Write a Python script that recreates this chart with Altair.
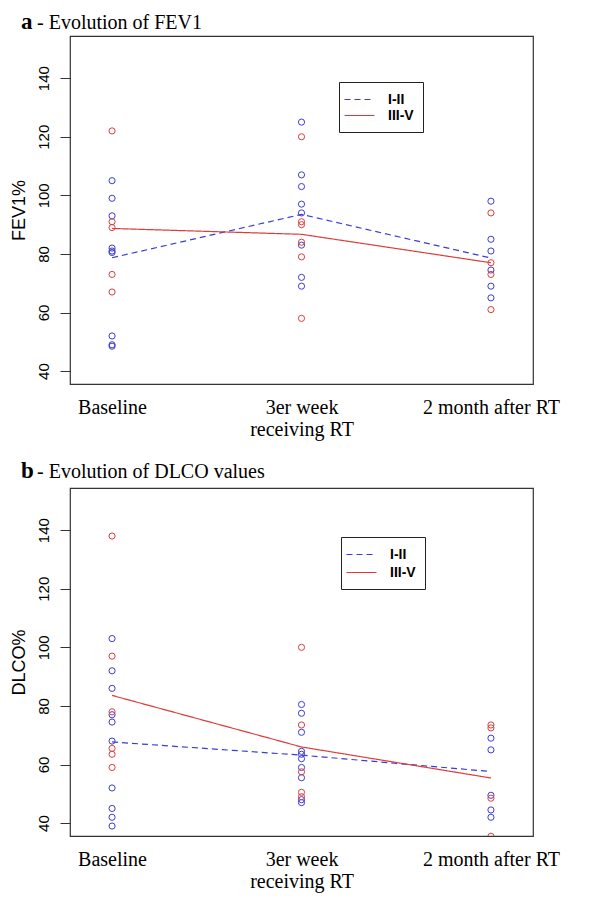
import altair as alt
import pandas as pd

# ---------------- data ----------------
times = ["Baseline", "3er week receiving RT", "2 month after RT"]
groups = ["I-II", "III-V"]

# Panel a: FEV1 %
fev_base_I = [105, 99, 93, 82, 81, 80.5, 52, 49, 48.5]
fev_base_III = [122, 91, 89, 73, 67]
fev_week3_I = [125, 107, 103, 97, 94, 83, 72, 69]
fev_week3_III = [120, 91, 90, 84, 79, 58]
fev_month2_I = [98, 85, 81, 74.5, 69, 65]
fev_month2_III = [94, 77, 73, 61]
fev_line_I = [78.7, 93.5, 78.6]
fev_line_III = [88.7, 86.7, 77.0]

# Panel b: DLCO %
dlco_base_I = [103, 92, 86, 77, 74.5, 68, 52, 45, 42, 39]
dlco_base_III = [138, 97, 78, 65.5, 63.5, 59]
dlco_week3_I = [80.5, 77.5, 71, 64.5, 63.5, 62, 59, 55.5, 48, 47]
dlco_week3_III = [100, 73.5, 57.5, 50.5, 49]
dlco_month2_I = [69, 65, 49.5, 44.5, 42]
dlco_month2_III = [73.5, 72.5, 48.5, 35.5]
dlco_line_I = [67.7, 63.2, 57.6]
dlco_line_III = [83.6, 66.0, 55.4]

y_ticks = [40, 60, 80, 100, 120, 140]
BLUE = "#3c3cd4"
RED = "#de3c3c"


def points_frame(series):
    rows = []
    for t, g, vals in series:
        for v in vals:
            rows.append({"time": t, "grp": g, "value": v})
    return pd.DataFrame(rows)


def lines_frame(line_I, line_III):
    rows = []
    for g, vals in (("I-II", line_I), ("III-V", line_III)):
        for i, v in enumerate(vals):
            rows.append({"time": times[i], "grp": g, "value": v, "idx": i})
    return pd.DataFrame(rows)


fev_pts = points_frame([
    (times[0], "I-II", fev_base_I), (times[0], "III-V", fev_base_III),
    (times[1], "I-II", fev_week3_I), (times[1], "III-V", fev_week3_III),
    (times[2], "I-II", fev_month2_I), (times[2], "III-V", fev_month2_III),
])
dlco_pts = points_frame([
    (times[0], "I-II", dlco_base_I), (times[0], "III-V", dlco_base_III),
    (times[1], "I-II", dlco_week3_I), (times[1], "III-V", dlco_week3_III),
    (times[2], "I-II", dlco_month2_I), (times[2], "III-V", dlco_month2_III),
])
fev_lines = lines_frame(fev_line_I, fev_line_III)
dlco_lines = lines_frame(dlco_line_I, dlco_line_III)

W, H = 463, 348


def panel(pts, lines, letter, title_text, ytitle, lx, ly, title_base, row_pad):
    x = alt.X(
        "time:N", sort=times, scale=alt.Scale(padding=0.222),
        axis=alt.Axis(
            title=None, labelAngle=0, ticks=False, domain=False, grid=False,
            labelFont="Liberation Serif", labelFontSize=20, labelColor="black",
            labelPadding=13, labelLineHeight=22, labelLimit=300,
            labelExpr="datum.label == '3er week receiving RT' ? ['3er week', 'receiving RT'] : datum.label",
        ),
    )
    y = alt.Y(
        "value:Q",
        scale=alt.Scale(domain=[35.6, 154.4], nice=False, zero=False),
        axis=alt.Axis(
            title=ytitle, values=y_ticks, grid=False, domain=False,
            tickSize=10, tickColor="#333333", tickWidth=1,
            labelAngle=270, labelAlign="center", labelBaseline="bottom",
            labelFont="Liberation Sans", labelFontSize=15, labelPadding=9,
            labelColor="black",
            titleFont="Liberation Sans", titleFontSize=18, titleFontWeight="normal",
            titleColor="black", titleX=-51, titleY=H / 2, titleAngle=270,
            titleAlign="center", titleBaseline="middle",
        ),
    )
    point_layer = alt.Chart(pts).mark_point(
        shape="circle", filled=False, size=38, strokeWidth=1, opacity=1, clip=True
    ).encode(
        x=x, y=y,
        stroke=alt.Stroke("grp:N", scale=alt.Scale(domain=groups, range=[BLUE, RED]), legend=None),
    )
    leg = dict(
        orient="none", legendX=lx, legendY=ly, title=None,
        symbolType="M-1.6,0L2.4,0", symbolSize=225, symbolStrokeWidth=1.2,
        labelFont="Liberation Sans", labelFontSize=14, labelFontWeight="bold",
        labelColor="black", labelOffset=23, strokeColor="#222222",
        fillColor="white", padding=9, rowPadding=row_pad,
    )
    line_layer = alt.Chart(lines).mark_line(strokeWidth=1.2).encode(
        x=x, y=y,
        order=alt.Order("idx:Q"),
        color=alt.Color("grp:N", scale=alt.Scale(domain=groups, range=[BLUE, RED]),
                        legend=alt.Legend(**leg)),
        strokeDash=alt.StrokeDash("grp:N", scale=alt.Scale(domain=groups, range=[[6, 4], [1, 0]]),
                                  legend=alt.Legend(**leg)),
    )
    tdf = pd.DataFrame({"letter": [letter], "rest": [title_text]})
    letter_layer = alt.Chart(tdf).mark_text(
        font="Liberation Serif", fontSize=23, fontWeight="bold",
        align="left", baseline="alphabetic", color="black",
    ).encode(text="letter:N", x=alt.value(-49), y=alt.value(title_base))
    rest_layer = alt.Chart(tdf).mark_text(
        font="Liberation Serif", fontSize=20, align="left",
        baseline="alphabetic", color="black",
    ).encode(text="rest:N", x=alt.value(-33), y=alt.value(title_base))
    return alt.layer(line_layer, point_layer, letter_layer, rest_layer).properties(width=W, height=H)


pa = panel(fev_pts, fev_lines, "a", "- Evolution of FEV1", "FEV1%", 269, 46, -7, -2)
pb = panel(dlco_pts, dlco_lines, "b", "- Evolution of DLCO values", "DLCO%", 271, 49, -10, 2)

chart = alt.vconcat(pa, pb, spacing=19).resolve_scale(
    color="independent", strokeDash="independent", stroke="independent"
).configure_view(stroke="#333333", strokeWidth=1.2).properties(
    padding={"left": 1, "top": 2, "right": 5, "bottom": 5}, background="white"
)

chart.save("out.html", embed_options={"renderer": "svg", "actions": False})
